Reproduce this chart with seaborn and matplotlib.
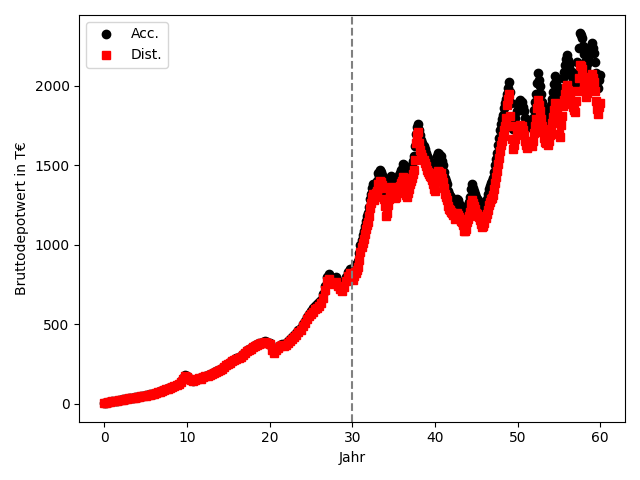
import numpy as np
import pandas as pd
import matplotlib
matplotlib.use("Agg")
import matplotlib.pyplot as plt
import seaborn as sns

# time grid: quarterly up to year 30, then every 1.5 months up to year 60
years = np.concatenate([np.arange(120) * 0.25, 30 + np.arange(241) * 0.125])

acc_early = [
    3, 7, 9, 11, 14, 16, 19, 22, 25, 27, 30, 32, 35, 37, 39, 40, 43, 45, 47, 49,
    52, 55, 58, 60, 64, 68, 73, 78, 82, 88, 92, 97, 102, 108, 112, 118, 125, 140, 160, 178,
    172, 160, 150, 145, 152, 158, 162, 160, 168, 175, 180, 186, 190, 198, 205, 212, 215, 222, 232, 245,
    252, 262, 270, 278, 285, 292, 298, 310, 322, 335, 342, 352, 360, 368, 375, 380, 385, 388, 392, 390,
    385, 350, 330, 345, 360, 372, 378, 370, 380, 395, 405, 418, 430, 445, 462, 478, 500, 520, 545, 565,
    585, 600, 615, 625, 640, 655, 690, 740, 800, 815, 790, 780, 795, 770, 745, 735, 760, 800, 830, 850,
]
acc_late = [
    830, 815, 840, 870, 860, 880, 900, 950,
    1000, 1030, 1060, 1085, 1120, 1150, 1180, 1200,
    1240, 1290, 1320, 1360, 1380, 1340, 1360, 1390,
    1400, 1450, 1430, 1470, 1460, 1440, 1420, 1350,
    1300, 1240, 1260, 1310, 1350, 1400, 1430, 1410,
    1400, 1370, 1380, 1400, 1420, 1440, 1450, 1470,
    1480, 1510, 1500, 1440, 1390, 1380, 1400, 1430,
    1460, 1480, 1500, 1530, 1560, 1620, 1700, 1740,
    1760, 1720, 1690, 1660, 1640, 1620, 1600, 1580,
    1560, 1545, 1530, 1520, 1510, 1490, 1470, 1440,
    1450, 1510, 1560, 1575, 1570, 1540, 1560, 1530,
    1500, 1460, 1420, 1400, 1380, 1340, 1320, 1310,
    1300, 1290, 1280, 1250, 1260, 1290, 1280, 1260,
    1250, 1240, 1230, 1210, 1200, 1190, 1210, 1230,
    1250, 1270, 1300, 1350, 1380, 1360, 1340, 1320,
    1300, 1290, 1280, 1270, 1250, 1220, 1200, 1210,
    1230, 1260, 1290, 1320, 1350, 1370, 1390, 1400,
    1420, 1460, 1500, 1540, 1580, 1630, 1670, 1720,
    1760, 1790, 1820, 1860, 1890, 1920, 1950, 1990,
    2025, 1960, 1890, 1800, 1730, 1760, 1800, 1840,
    1880, 1900, 1910, 1890, 1900, 1870, 1840, 1800,
    1770, 1750, 1760, 1740, 1780, 1770, 1760, 1800,
    1850, 1900, 1950, 2020, 2080, 2040, 2000, 1950,
    1900, 1860, 1820, 1790, 1780, 1770, 1800, 1840,
    1880, 1920, 1960, 2010, 2060, 2030, 2000, 1950,
    1900, 1880, 1920, 1980, 2050, 2090, 2130, 2170,
    2195, 2160, 2130, 2100, 2070, 2060, 2040, 2020,
    2010, 2080, 2150, 2240, 2330, 2320, 2300, 2250,
    2200, 2150, 2110, 2140, 2180, 2200, 2230, 2250,
    2270, 2240, 2210, 2150, 2080, 2030, 1990, 2040,
    2070,
]

dist_early = [
    3, 7, 9, 11, 14, 16, 19, 22, 24, 26, 29, 31, 34, 36, 38, 39, 42, 44, 46, 48,
    51, 54, 57, 59, 63, 67, 71, 76, 80, 86, 90, 95, 100, 105, 109, 115, 122, 137, 156, 174,
    169, 158, 148, 143, 150, 156, 160, 158, 165, 172, 177, 183, 187, 195, 202, 209, 212, 219, 228, 241,
    248, 258, 266, 274, 281, 288, 294, 305, 317, 330, 337, 347, 355, 362, 369, 374, 379, 382, 386, 384,
    375, 341, 322, 336, 351, 363, 369, 361, 371, 385, 395, 408, 419, 434, 450, 466, 488, 507, 531, 551,
    565, 579, 593, 603, 618, 632, 666, 714, 772, 786, 762, 753, 767, 743, 719, 709, 733, 772, 801, 820,
]
dist_late = [
    793, 778, 802, 831, 821, 840, 860, 907,
    955, 984, 1012, 1036, 1070, 1098, 1127, 1146,
    1184, 1232, 1261, 1299, 1318, 1280, 1299, 1327,
    1337, 1385, 1366, 1404, 1394, 1375, 1356, 1289,
    1242, 1180, 1203, 1251, 1289, 1337, 1366, 1347,
    1323, 1295, 1304, 1323, 1342, 1361, 1370, 1389,
    1399, 1427, 1418, 1361, 1314, 1304, 1323, 1351,
    1380, 1399, 1418, 1446, 1474, 1531, 1640, 1690,
    1710, 1640, 1597, 1569, 1550, 1531, 1512, 1493,
    1474, 1460, 1446, 1436, 1427, 1408, 1380, 1350,
    1340, 1404, 1451, 1465, 1460, 1432, 1451, 1423,
    1395, 1358, 1321, 1302, 1283, 1246, 1228, 1218,
    1209, 1200, 1190, 1163, 1172, 1200, 1190, 1172,
    1163, 1153, 1144, 1125, 1090, 1085, 1100, 1144,
    1163, 1181, 1209, 1256, 1283, 1265, 1246, 1228,
    1203, 1193, 1184, 1175, 1156, 1129, 1110, 1119,
    1138, 1166, 1193, 1221, 1249, 1267, 1286, 1295,
    1314, 1351, 1388, 1425, 1462, 1508, 1545, 1591,
    1628, 1656, 1684, 1721, 1748, 1800, 1880, 1920,
    1950, 1813, 1748, 1665, 1600, 1628, 1665, 1702,
    1730, 1748, 1757, 1739, 1748, 1720, 1693, 1656,
    1628, 1610, 1620, 1640, 1640, 1628, 1619, 1656,
    1702, 1748, 1794, 1858, 1914, 1877, 1840, 1794,
    1748, 1711, 1674, 1647, 1638, 1628, 1656, 1693,
    1730, 1766, 1803, 1849, 1895, 1868, 1840, 1794,
    1700, 1680, 1757, 1812, 1876, 1912, 1949, 1986,
    2008, 1976, 1949, 1922, 1894, 1885, 1867, 1848,
    1839, 1903, 1967, 2050, 2132, 2123, 2105, 2059,
    2013, 1967, 1931, 1958, 1995, 2013, 2040, 2059,
    2077, 2050, 2022, 1967, 1903, 1857, 1821, 1867,
    1894,
]

acc = acc_early + acc_late
dist = dist_early + dist_late
switch_year = 30

df = pd.DataFrame({"Jahr": years, "Acc": acc, "Dist": dist})

fig, ax = plt.subplots(figsize=(6.4, 4.8), dpi=100)
sns.lineplot(data=df, x="Jahr", y="Acc", color="black", marker="o", linestyle="",
             markersize=6, markeredgecolor="black", markeredgewidth=1,
             label="Acc.", ax=ax)
sns.lineplot(data=df, x="Jahr", y="Dist", color="red", marker="s", linestyle="",
             markersize=6, markeredgecolor="red", markeredgewidth=1,
             label="Dist.", ax=ax)
ax.axvline(switch_year, color="gray", linestyle="--", linewidth=1.5)
ax.set_xlabel("Jahr")
ax.set_ylabel("Bruttodepotwert in T€")
ax.legend(loc="upper left")
fig.tight_layout()
fig.savefig("out.png", dpi=100)
